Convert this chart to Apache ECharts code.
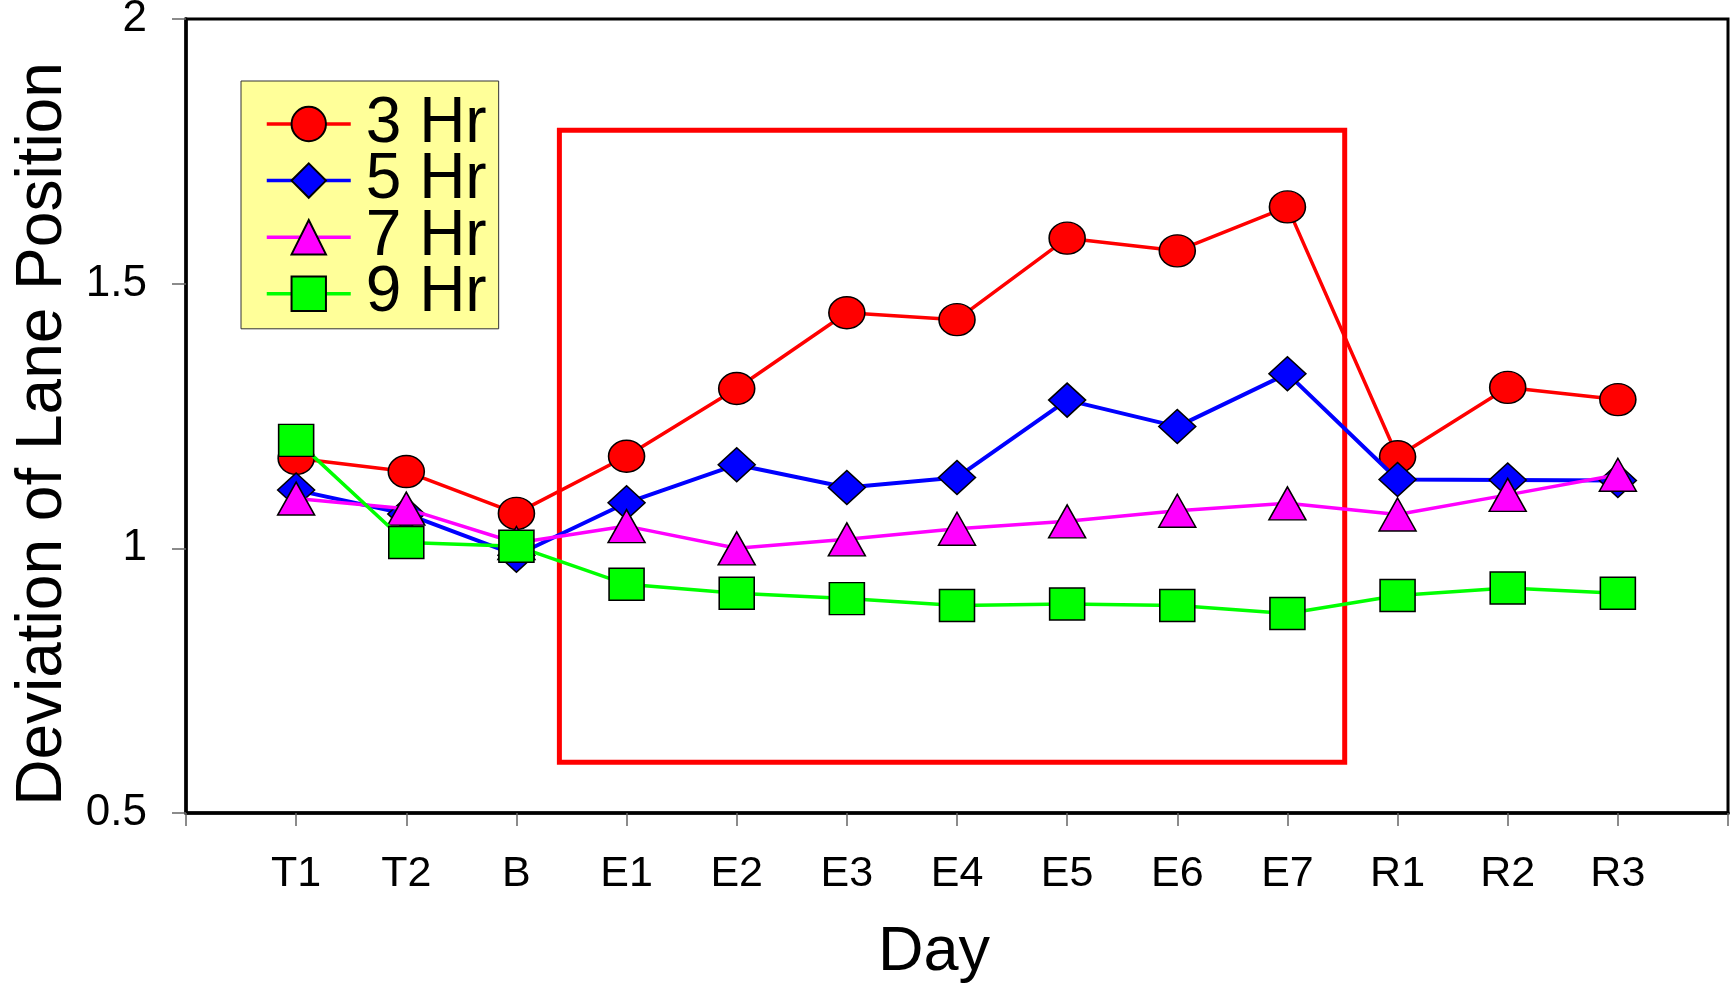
<!DOCTYPE html>
<html>
<head>
<meta charset="utf-8">
<script src="https://cdn.jsdelivr.net/npm/echarts@6/dist/echarts.min.js"></script>
<style>
html,body{margin:0;padding:0;background:#fff;}
#chart{width:1734px;height:987px;}
</style>
</head>
<body>
<div id="chart"></div>
<script>
const categories = ['T1','T2','B','E1','E2','E3','E4','E5','E6','E7','R1','R2','R3'];
const hr3 = [1.170, 1.145, 1.066, 1.174, 1.302, 1.445, 1.432, 1.586, 1.562, 1.645, 1.173, 1.304, 1.281];
const hr5 = [1.110, 1.065, 0.987, 1.086, 1.158, 1.115, 1.134, 1.280, 1.230, 1.330, 1.130, 1.129, 1.128];
const hr7 = [1.094, 1.075, 1.010, 1.042, 1.000, 1.017, 1.037, 1.051, 1.071, 1.085, 1.064, 1.101, 1.139];
const hr9 = [1.204, 1.011, 1.004, 0.932, 0.915, 0.905, 0.892, 0.895, 0.892, 0.877, 0.911, 0.925, 0.915];
const seriesNames = ['3 Hr','5 Hr','7 Hr','9 Hr'];
// highlighted window (data coordinates: day position, deviation)
const boxFrom = [3.39, 1.79];
const boxTo = [10.52, 0.596];

const FONT = "'Liberation Sans', Arial, sans-serif";
const pts = arr => arr.map((v, i) => [i + 1, v]);

function mk(name, data, color, symbol, size, z) {
  return {
    name: name,
    type: 'line',
    data: pts(data),
    symbol: symbol,
    symbolSize: size,
    z: z,
    lineStyle: { color: color, width: 3.5 },
    itemStyle: { color: color, borderColor: '#000', borderWidth: 1.5 },
    emphasis: { disabled: true },
    animation: false
  };
}

const chart = echarts.init(document.getElementById('chart'));
const s1 = mk(seriesNames[0], hr3, '#ff0000', 'circle', [36, 32], 2);
s1.markArea = {
  silent: true,
  itemStyle: { color: 'rgba(0,0,0,0)', borderColor: '#ff0000', borderWidth: 5 },
  data: [[{ coord: boxFrom }, { coord: boxTo }]]
};
const s2 = mk(seriesNames[1], hr5, '#0000ff', 'diamond', [37, 34], 3);
s2.lineStyle.width = 4;
const s3 = mk(seriesNames[2], hr7, '#ff00ff', 'triangle', [37, 33], 4);
const s4 = mk(seriesNames[3], hr9, '#00ff00', 'rect', [35, 32], 5);

chart.setOption({
  backgroundColor: '#ffffff',
  animation: false,
  grid: { left: 186, right: 6, top: 19, bottom: 174, outerBoundsMode: 'none', containLabel: false,
    show: true, borderColor: '#000', borderWidth: 3, backgroundColor: 'transparent' },
  legend: {
    orient: 'vertical',
    left: 241, top: 81,
    backgroundColor: '#ffff99',
    borderColor: '#333', borderWidth: 1,
    padding: [11, 12, 3, 24],
    itemWidth: 84, itemHeight: 43, itemGap: -7.4,
    lineStyle: { width: 3.5 },
    textStyle: { fontFamily: FONT, fontSize: 64, color: '#000', padding: [0, 0, 0, 10] },
    data: seriesNames
  },
  xAxis: {
    type: 'value', min: 0, max: 14, interval: 1,
    name: 'Day', nameLocation: 'middle', nameGap: 108,
    nameTextStyle: { fontFamily: FONT, fontSize: 63, color: '#000', padding: [0, 46, 0, 0] },
    axisLine: { lineStyle: { color: '#000', width: 3.5 } },
    axisTick: { show: true, length: 13, inside: false, lineStyle: { color: '#666', width: 1.5 } },
    axisLabel: { fontFamily: FONT, fontSize: 43, color: '#000', margin: 40,
      formatter: v => (v >= 1 && v <= categories.length) ? categories[v - 1] : '' },
    splitLine: { show: false }
  },
  yAxis: {
    type: 'value', min: 0.5, max: 2, interval: 0.5,
    name: 'Deviation of Lane Position', nameLocation: 'middle', nameGap: 111,
    nameTextStyle: { fontFamily: FONT, fontSize: 64, color: '#000', padding: [0, 36, 0, 0] },
    axisLine: { show: true, lineStyle: { color: '#000', width: 3.5 } },
    axisTick: { show: true, length: 14, lineStyle: { color: '#666', width: 1.5 } },
    axisLabel: { fontFamily: FONT, fontSize: 44, color: '#000', margin: 39 },
    splitLine: { show: false }
  },
  series: [s1, s2, s3, s4]
});
</script>
</body>
</html>
